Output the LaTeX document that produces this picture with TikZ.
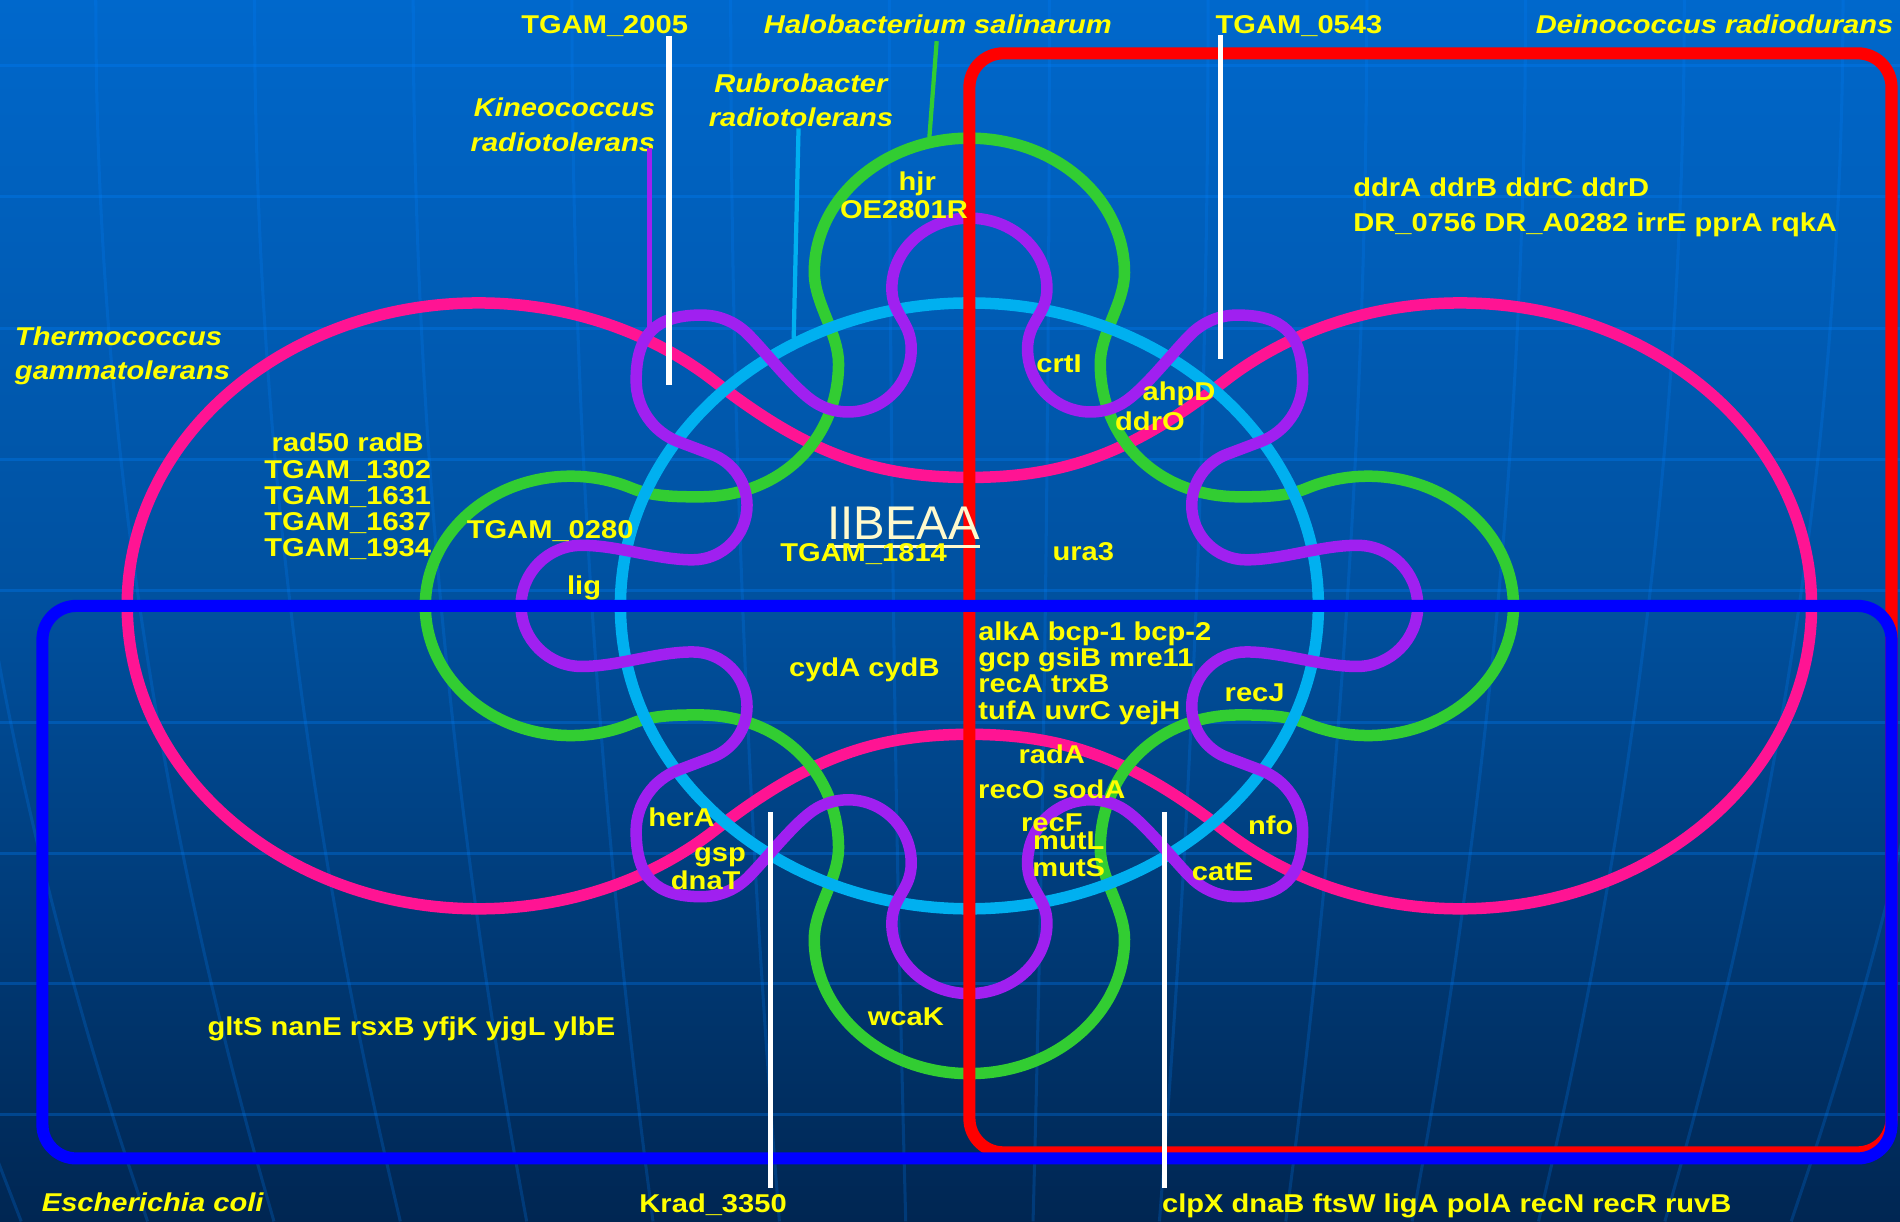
\documentclass[tikz,border=0pt]{standalone}
\usepackage{fontspec}
\setmainfont{Liberation Sans}[FakeStretch=1.13]
\newfontfamily\titlefont{Liberation Sans}

\definecolor{bgtop}{RGB}{0,104,204}
\definecolor{bgmid}{RGB}{0,80,158}
\definecolor{bgbot}{RGB}{0,38,82}
\definecolor{gridblue}{RGB}{0,130,255}
\definecolor{seampink}{RGB}{255,20,147}
\definecolor{ringcyan}{RGB}{0,176,240}
\definecolor{lobegreen}{RGB}{50,205,50}
\definecolor{lobepurple}{RGB}{160,32,240}
\definecolor{genetext}{RGB}{255,255,0}
\definecolor{cream}{RGB}{255,250,205}

\newcommand{\genefont}{\fontsize{12.1}{12.3}\selectfont\bfseries}
\newcommand{\taxonfont}{\fontsize{12.1}{16.1}\selectfont\bfseries\itshape}
\newcommand{\widefont}{\fontsize{12.1}{16.3}\selectfont\bfseries}

\begin{document}
\begin{tikzpicture}[x=0.02cm, y=-0.02cm,
    every node/.style={inner sep=0pt, text=genetext, font=\genefont},
    taxon/.style={font=\taxonfont},
    venn/.style={line width=1.9mm, line cap=round},
    setbox/.style={line width=2mm, rounded corners=5.6mm},
    leader/.style={line width=0.7mm},
    pointer/.style={white, line width=0.9mm},
    gridline/.style={gridblue, line width=0.5mm, opacity=0.3}]

  % backdrop
  \useasboundingbox (0,0) rectangle (1568,1008);
  \clip (0,0) rectangle (1568,1008);
  \fill[top color=bgtop, bottom color=bgbot, middle color=bgmid] (0,0) rectangle (1568,1008);
  \foreach \h in {54,162,271,379,487,596,704,812,920}
    \draw[gridline] (0,\h) -- (1568,\h);
  \foreach \d in {-983,-852,-721,-590,-459,-328,-197,-66,66,197,328,459,590,721,852,983}
    \draw[gridline, opacity=0.22] plot[domain=0:1008, samples=15, smooth] ({800+\d*(1-0.204*(\x/1008)^2)}, \x);

  % the four curved sets, one quarter at a time
  \foreach \sx/\sy in {1/1,-1/1,1/-1,-1/-1}{
    \begin{scope}[shift={(800,500)}, xscale=\sx, yscale=\sy]
      \draw[venn, seampink] (-695,0) arc[start angle=180, end angle=312, x radius=290, y radius=250]
        .. controls (-135.6,-127.2) and (-80,-106) .. (0,-106);
    \end{scope}
  }
  \foreach \sx/\sy in {1/1,-1/1,1/-1,-1/-1}{
    \begin{scope}[shift={(800,500)}, xscale=\sx, yscale=\sy]
      \draw[venn, lobegreen] (0,-386) arc[start angle=270, end angle=180, x radius=128, y radius=111]
        .. controls (-128,-250) and (-108,-225) .. (-108,-200)
        .. controls (-108,-140) and (-153,-90) .. (-223,-90)
        .. controls (-241,-90) and (-261.7,-90.1) .. (-278.3,-97)
        arc[start angle=295, end angle=180, x radius=120, y radius=107];
    \end{scope}
  }
  \draw[venn, ringcyan] (800,500) ellipse [x radius=288, y radius=250];
  \foreach \sx/\sy in {1/1,-1/1,1/-1,-1/-1}{
    \begin{scope}[shift={(800,500)}, xscale=\sx, yscale=\sy]
      \draw[venn, lobepurple] (-370,0) arc[start angle=180, end angle=270, radius=50]
        .. controls (-290,-50) and (-258,-38) .. (-228.5,-38)
        arc[start angle=90, end angle=-69.2, radius=45]
        -- (-240.2,-135.5)
        arc[start angle=110.8, end angle=180, radius=54]
        .. controls (-275,-224) and (-259,-240) .. (-221,-240)
        arc[start angle=270, end angle=314, radius=54]
        .. controls (-169.1,-210.9) and (-143.3,-177) .. (-126,-167)
        arc[start angle=120, end angle=0, radius=52]
        .. controls (-48,-235) and (-64,-240) .. (-64,-262)
        arc[start angle=180, end angle=270, x radius=64, y radius=58];
    \end{scope}
  }

  % Deinococcus and E. coli frames
  \draw[setbox, red] (800,44) rectangle (1561,951);
  \draw[setbox, blue] (35,500) rectangle (1561,956);

  % species labels and their leaders
  \node[anchor=base, taxon] (halo) at (774,28) {Halobacterium salinarum};
  \node[anchor=base, taxon] (deino) at (1415,28) {Deinococcus radiodurans};
  \node[anchor=north east, align=right, taxon] (kineo) at (541,80.6) {Kineococcus\\radiotolerans};
  \node[anchor=north, align=center, taxon] (rubro) at (661,60.4) {Rubrobacter\\radiotolerans};
  \node[anchor=north west, align=left, taxon] (thermo) at (12,269.5) {Thermococcus\\gammatolerans};
  \node[anchor=base, taxon] (ecoli) at (126,999.6) {Escherichia coli};
  \coordinate (halotop) at (773,34);   \coordinate (halobot) at (767,113);
  \coordinate (kineotop) at (536,122); \coordinate (kineobot) at (536,270);
  \coordinate (rubrotop) at (659,106); \coordinate (rubrobot) at (655,279);
  \draw[leader, lobegreen] (halotop) -- (halobot);
  \draw[leader, lobepurple] (kineotop) -- (kineobot);
  \draw[leader, ringcyan] (rubrotop) -- (rubrobot);

  % genes pointed at from outside
  \node[anchor=base] (tgam2005) at (499,28) {TGAM\_2005};
  \node[anchor=base] (tgam0543) at (1072,28) {TGAM\_0543};
  \node[anchor=base] (krad) at (588.5,1001) {Krad\_3350};
  \node[anchor=base] (repair) at (1194,1001) {clpX dnaB ftsW ligA polA recN recR ruvB};
  \coordinate (p2005a) at (552,30);  \coordinate (p2005b) at (552,318);
  \coordinate (p0543a) at (1007,29); \coordinate (p0543b) at (1007,296);
  \coordinate (p3350a) at (636,670); \coordinate (p3350b) at (636,980);
  \coordinate (prepa) at (961,670);  \coordinate (prepb) at (961,980);
  \draw[pointer] (p2005a) -- (p2005b);
  \draw[pointer] (p0543a) -- (p0543b);
  \draw[pointer] (p3350a) -- (p3350b);
  \draw[pointer] (prepa) -- (prepb);

  % genes inside the regions
  \node[anchor=base] (hjr) at (757,157) {hjr};
  \node[anchor=base] (oe) at (746,180) {OE2801R};
  \node[anchor=north west, align=left, font=\widefont] (ddr) at (1116.5,146.6) {ddrA ddrB ddrC ddrD\\DR\_0756 DR\_A0282 irrE pprA rqkA};
  \node[anchor=base] (crti) at (874,307.6) {crtI};
  \node[anchor=base] (ahpd) at (973,330.7) {ahpD};
  \node[anchor=base] (ddro) at (949,355) {ddrO};
  \node[anchor=north, align=center] (tgamlist) at (287,357.2) {rad50 radB\\TGAM\_1302\\TGAM\_1631\\TGAM\_1637\\TGAM\_1934};
  \node[anchor=base] (tgam0280) at (454,444.3) {TGAM\_0280};
  \node[anchor=base west, text=cream, font=\titlefont\fontsize{22.2}{24}\selectfont] (iibeaa) at (682.5,445) {IIBEAA};
  \draw[cream, line width=1.2pt] ([yshift=-3.4pt]iibeaa.base west) -- ([yshift=-3.4pt]iibeaa.base east);
  \node[anchor=base] (tgam1814) at (712.7,463.5) {TGAM\_1814};
  \node[anchor=base] (ura) at (894,462.7) {ura3};
  \node[anchor=base] (lig) at (482,491) {lig};
  \node[anchor=base] (cyd) at (713.3,557.9) {cydA cydB};
  \node[anchor=north west, align=left] (shared) at (807,512.8) {alkA bcp-1 bcp-2\\gcp gsiB mre11\\recA trxB\\tufA uvrC yejH};
  \node[anchor=base] (recj) at (1035.4,579) {recJ};
  \node[anchor=base] (rada) at (868,630) {radA};
  \node[anchor=base] (reco) at (868,659) {recO sodA};
  \node[anchor=base] (recf) at (868,686.4) {recF};
  \node[anchor=base] (mutl) at (882,701) {mutL};
  \node[anchor=base] (muts) at (882,723.5) {mutS};
  \node[anchor=base] (nfo) at (1048.7,689) {nfo};
  \node[anchor=base] (cate) at (1009,726.3) {catE};
  \node[anchor=base] (hera) at (562.4,682.2) {herA};
  \node[anchor=base] (gsp) at (594.2,711.1) {gsp};
  \node[anchor=base] (dnat) at (582.4,734) {dnaT};
  \node[anchor=base] (wcak) at (747.5,846.7) {wcaK};
  \node[anchor=base] (ecolionly) at (339.5,854.8) {gltS nanE rsxB yfjK yjgL ylbE};
\end{tikzpicture}
\end{document}
